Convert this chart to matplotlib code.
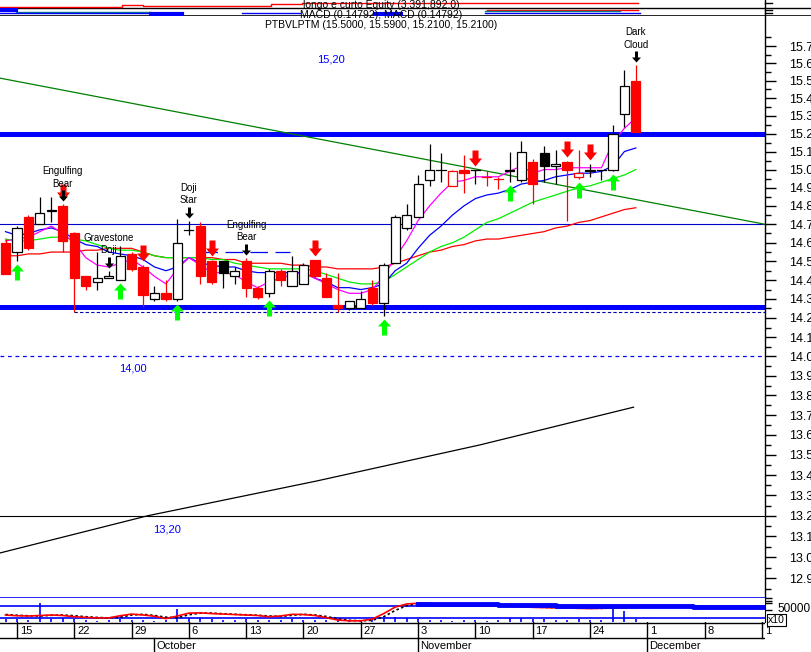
import matplotlib
matplotlib.use("Agg")
import matplotlib.pyplot as plt
import numpy as np
from matplotlib.path import Path
from matplotlib.ticker import FixedLocator, NullFormatter, FixedFormatter

plt.rcParams['font.family'] = ['Liberation Sans', 'DejaVu Sans']

# trading days, 12 Sep .. 28 Nov
opens = [14.60, 14.55, 14.74, 14.70, 14.77, 14.80, 14.65, 14.42, 14.39, 14.41,
         14.40, 14.54, 14.47, 14.30, 14.33, 14.30, 14.67, 14.69, 14.50, 14.50,
         14.42, 14.50, 14.36, 14.33, 14.45, 14.37, 14.38, 14.51, 14.41, 14.27,
         14.25, 14.25, 14.36, 14.28, 14.49, 14.68, 14.74, 14.94, 15.00, 14.91,
         15.00, 15.00, 14.96, 14.95, 14.99, 14.94, 15.04, 15.09, 15.02, 15.04,
         14.96, 14.99, 15.00, 15.00, 15.31, 15.50]
highs = [14.62, 14.69, 14.75, 14.85, 14.85, 14.81, 14.66, 14.42, 14.55, 14.45,
         14.58, 14.55, 14.48, 14.37, 14.40, 14.73, 14.72, 14.71, 14.51, 14.50,
         14.47, 14.52, 14.37, 14.46, 14.46, 14.53, 14.49, 14.51, 14.44, 14.44,
         14.29, 14.34, 14.40, 14.49, 14.75, 14.81, 14.97, 15.14, 15.09, 15.00,
         15.08, 15.00, 14.99, 14.96, 15.10, 15.16, 15.06, 15.13, 15.11, 15.05,
         15.11, 15.03, 15.00, 15.25, 15.56, 15.59]
lows = [14.43, 14.50, 14.56, 14.70, 14.71, 14.55, 14.23, 14.35, 14.35, 14.41,
        14.40, 14.45, 14.26, 14.29, 14.29, 14.29, 14.64, 14.38, 14.38, 14.36,
        14.38, 14.31, 14.30, 14.31, 14.37, 14.37, 14.38, 14.41, 14.31, 14.23,
        14.24, 14.25, 14.27, 14.21, 14.49, 14.67, 14.74, 14.91, 14.93, 14.91,
        14.87, 14.92, 14.91, 14.89, 14.93, 14.93, 14.81, 14.93, 14.92, 14.72,
        14.95, 14.96, 14.94, 14.99, 15.24, 15.21]
closes = [14.43, 14.68, 14.57, 14.76, 14.78, 14.61, 14.41, 14.37, 14.41, 14.42,
          14.53, 14.46, 14.32, 14.33, 14.30, 14.60, 14.67, 14.42, 14.39, 14.44,
          14.45, 14.36, 14.31, 14.45, 14.40, 14.45, 14.48, 14.42, 14.31, 14.25,
          14.29, 14.30, 14.28, 14.48, 14.74, 14.75, 14.92, 15.00, 15.00, 14.99,
          14.98, 15.00, 14.96, 14.95, 15.00, 15.10, 14.92, 15.02, 15.03, 15.00,
          14.98, 15.00, 15.00, 15.20, 15.47, 15.21]

# moving averages
ma_fast = [14.61, 14.62, 14.63, 14.66, 14.69, 14.65, 14.60, 14.52, 14.48, 14.47,
           14.49, 14.51, 14.47, 14.42, 14.38, 14.46, 14.52, 14.48, 14.44, 14.44,
           14.43, 14.39, 14.36, 14.39, 14.41, 14.43, 14.44, 14.41, 14.38, 14.35,
           14.33, 14.33, 14.35, 14.42, 14.52, 14.61, 14.72, 14.80, 14.87, 14.93,
           14.94, 14.96, 14.96, 14.96, 14.99, 15.02, 14.98, 15.00, 15.00, 15.01,
           15.01, 15.01, 15.01, 15.15, 15.23, 15.29]
ma_mid = [14.66, 14.64, 14.65, 14.67, 14.68, 14.66, 14.62, 14.59, 14.58, 14.55,
          14.54, 14.53, 14.51, 14.47, 14.45, 14.47, 14.52, 14.49, 14.48, 14.47,
          14.47, 14.45, 14.44, 14.44, 14.44, 14.44, 14.44, 14.41, 14.39, 14.36,
          14.36, 14.35, 14.36, 14.38, 14.45, 14.49, 14.57, 14.64, 14.69, 14.75,
          14.80, 14.84, 14.86, 14.87, 14.89, 14.92, 14.93, 14.94, 14.96, 14.97,
          14.98, 14.98, 14.99, 15.02, 15.10, 15.12]
ma_slow = [14.62, 14.61, 14.61, 14.62, 14.63, 14.63, 14.62, 14.61, 14.59, 14.57,
           14.56, 14.56, 14.55, 14.53, 14.52, 14.52, 14.52, 14.52, 14.51, 14.51,
           14.49, 14.48, 14.47, 14.46, 14.46, 14.46, 14.46, 14.45, 14.43, 14.41,
           14.39, 14.38, 14.38, 14.39, 14.43, 14.47, 14.51, 14.55, 14.58, 14.60,
           14.63, 14.67, 14.71, 14.73, 14.76, 14.79, 14.82, 14.84, 14.86, 14.88,
           14.90, 14.91, 14.93, 14.95, 14.97, 15.00]
ma_long = [14.53, 14.53, 14.54, 14.54, 14.55, 14.55, 14.55, 14.56, 14.56, 14.57,
           14.57, 14.57, 14.55, 14.53, 14.52, 14.52, 14.52, 14.52, 14.52, 14.51,
           14.51, 14.49, 14.49, 14.49, 14.49, 14.48, 14.48, 14.47, 14.47, 14.46,
           14.46, 14.46, 14.46, 14.47, 14.49, 14.51, 14.53, 14.55, 14.56, 14.58,
           14.59, 14.61, 14.62, 14.62, 14.63, 14.64, 14.65, 14.66, 14.68, 14.69,
           14.71, 14.72, 14.74, 14.76, 14.78, 14.79]

# long black line (sparse points) and green trend line
black_x = [-0.48, 12.4, 27.1, 41.4, 54.8]
black_y = [13.02, 13.20, 13.37, 13.55, 13.74]
trend_x = [-0.48, 66.27]
trend_y = [15.515, 14.70]

levels_thick = [15.20, 14.26]
level_thin = 14.70
level_dash = 14.00
level_black = 13.20
support_dash = 14.23
resist_dash = 14.55

level_labels = [("15,20", 28.4, 15.62), ("14,00", 11.1, 13.94), ("13,20", 14.1, 13.135)]

red_arrows = [5, 12, 18, 27, 41, 49, 51]
green_arrows = [1, 10, 15, 23, 33, 44, 50, 53]
patterns = [(5, "Engulfing\nBear"), (9, "Gravestone\nDoji"), (16, "Doji\nStar"),
            (21, "Engulfing\nBear"), (55, "Dark\nCloud")]

# lower panel: volume (x10) and its averages
volume = [12, 14, 10, 79, 12, 16, 13, 9, 6, 8, 14, 9, 10, 6, 8, 54, 15, 18, 12, 9,
          8, 14, 10, 9, 8, 13, 10, 9, 7, 11, 9, 8, 12, 16, 20, 18, 14, 10, 8, 6,
          7, 8, 6, 9, 16, 18, 12, 14, 10, 9, 12, 8, 7, 58, 46, 14]
vol_avg_red = [29, 26, 25, 27, 29, 27, 22, 19, 17, 17, 26, 33, 29, 24, 14, 25, 37, 38, 35, 33,
               31, 29, 27, 22, 25, 32, 31, 27, 18, 8, 5, 5, 12, 35, 62, 75, 78, 76, 74, 72,
               71, 70, 68, 66, 65, 63, 61, 60, 59, 58, 57, 56, 57, 58, 60, 62]
vol_avg_blk = [31, 28, 26, 25, 28, 29, 26, 22, 19, 17, 20, 29, 32, 27, 20, 18, 30, 37, 37, 34,
               32, 30, 28, 25, 23, 28, 32, 29, 23, 13, 7, 5, 7, 22, 48, 68, 76, 77, 75, 73,
               72, 70, 69, 67, 66, 64, 62, 61, 60, 59, 58, 57, 57, 58, 59, 61]
vol_band_x = [36, 43, 48, 60, 66.27]
vol_band_y = [76, 72, 67, 63, 63]

# compressed equity strip at the top
eq_red_x = [-0.48, 10.2, 12.0, 23.2, 25.9, 55.2]
eq_red_y = [6.7, 5.0, 6.0, 4.3, 3.3, 3.3]
eq_teal_x = [0.9, 12.7]
eq_blue_x = [-0.48, 15.4]

week_ticks = [1, 6, 11, 16, 21, 26, 31, 36, 41, 46, 51, 56, 61, 66]
week_labels = ["15", "22", "29", "6", "13", "20", "27", "3", "10", "17", "24", "1", "8", "1"]
month_ticks = [13, 36, 56]
month_labels = ["October", "November", "December"]

W, H = 812, 652
fig = plt.figure(figsize=(W / 100, H / 100), dpi=100)
fig.patch.set_facecolor("white")

def frac(x0, y0, x1, y1):
    return [x0 / W, 1 - y1 / H, (x1 - x0) / W, (y1 - y0) / H]

XL = (-0.48, 66.27)

ax = fig.add_axes(frac(0, 16, 765, 597))
ax.set_yscale("log")
ax.set_ylim(12.81, 15.875)
ax.set_xlim(*XL)
for s in ["top", "left", "bottom"]:
    ax.spines[s].set_visible(False)
ax.spines["right"].set_linewidth(1.0)
ax.yaxis.tick_right()
ax.set_xticks([])
major = [round(12.9 + 0.1 * k, 2) for k in range(29)]
minor = [round(12.85 + 0.1 * k, 2) for k in range(30)]
ax.yaxis.set_major_locator(FixedLocator(major))
ax.yaxis.set_major_formatter(FixedFormatter(["%.1f" % v for v in major]))
ax.yaxis.set_minor_locator(FixedLocator(minor))
ax.yaxis.set_minor_formatter(NullFormatter())
ax.tick_params(axis="y", which="major", length=8, width=1, pad=9, labelsize=9)
ax.tick_params(axis="y", which="minor", length=4, width=1)

# horizontal levels
for lv in levels_thick:
    ax.axhline(lv, color="#0000ff", lw=3.6, zorder=2)
ax.axhline(level_thin, color="#0000cc", lw=0.8, zorder=1)
ax.axhline(level_dash, color="#0000ff", lw=0.9, ls=(0, (3, 3)), zorder=1)
ax.axhline(level_black, color="black", lw=0.8, zorder=1)
ax.plot([6.0, XL[1]], [support_dash, support_dash], color="#0000aa", lw=0.8, ls=(0, (3, 2)), zorder=1)
ax.plot([17.0, 24.8], [resist_dash, resist_dash], color="#0000ff", lw=0.9, ls=(0, (14, 6)), zorder=1)

ax.plot(trend_x, trend_y, color="#008000", lw=0.9, zorder=2)
ax.plot(black_x, black_y, color="black", lw=0.9, zorder=2)

for txt, xv, yv in level_labels:
    ax.text(xv, yv, txt, color="#0000ff", fontsize=8, ha="center", va="center")

idx = np.arange(len(closes))
ax.plot(idx, ma_long, color="#ff0000", lw=0.9, zorder=3)
ax.plot(idx, ma_slow, color="#00ee00", lw=0.9, zorder=3)
ax.plot(idx, ma_mid, color="#0000ff", lw=0.9, zorder=3)
ax.plot(idx, ma_fast, color="#ff00ff", lw=0.9, zorder=3)

# candles
bw = 0.8
for i in idx:
    o, h, l, c = opens[i], highs[i], lows[i], closes[i]
    prev = closes[i - 1] if i > 0 else o
    down_day = c < prev
    if c > o:
        fc, ec = "white", ("#ff0000" if down_day else "black")
    elif c < o:
        fc = "#ff0000" if down_day else "black"
        ec = fc
    else:
        fc, ec = None, ("#ff0000" if down_day else "black")
    ax.plot([i, i], [l, h], color=ec, lw=0.9, zorder=4, solid_capstyle="butt")
    if fc is None:
        ax.plot([i - bw / 2, i + bw / 2], [o, o], color=ec, lw=0.9, zorder=5)
    else:
        lo, hi = min(o, c), max(o, c)
        ax.bar(i, hi - lo, bottom=lo, width=bw, color=fc, edgecolor=ec,
               linewidth=0.9, zorder=5)

# arrow markers; the marker origin is the candle high/low
def arrow_path(up, gap, length, head_w, head_l, shaft_w):
    s = -1 if up else 1
    pts = [(0, gap), (head_w / 2, gap + head_l), (shaft_w / 2, gap + head_l),
           (shaft_w / 2, gap + length), (-shaft_w / 2, gap + length),
           (-shaft_w / 2, gap + head_l), (-head_w / 2, gap + head_l), (0, gap)]
    return Path([(x, s * y) for x, y in pts], closed=True)

big_down = arrow_path(False, 4, 16, 13, 8, 6)
big_up = arrow_path(True, 3, 16, 13, 7, 5)
small_down = arrow_path(False, 3, 11, 9, 5, 3)

for i in red_arrows:
    ax.plot(i, highs[i], marker=big_down, markersize=2 * 20 * 0.72, color="#ff0000",
            markeredgewidth=0, zorder=6)
for i in green_arrows:
    ax.plot(i, lows[i], marker=big_up, markersize=2 * 19 * 0.72, color="#00ff00",
            markeredgewidth=0, zorder=6)
for i, txt in patterns:
    ax.plot(i, highs[i], marker=small_down, markersize=2 * 14 * 0.72, color="black",
            markeredgewidth=0, zorder=7)
    ax.annotate(txt, xy=(i, highs[i]), xytext=(0, 11), textcoords="offset points",
                ha="center", va="bottom", fontsize=7, linespacing=1.3, zorder=7)

# top strip
axt = fig.add_axes(frac(0, 0, 812, 16))
axt.set_xlim(XL[0], XL[0] + (XL[1] - XL[0]) * 812 / 765)
axt.set_ylim(16, 0)
axt.axis("off")
axt.axhline(8.3, color="black", lw=1.0)
axt.axhline(15.5, color="black", lw=1.2)
axt.step(eq_red_x, eq_red_y, where="post", color="#ff0000", lw=1.0)
axt.plot([42.0, 55.2], [9.7, 9.7], color="#ff0000", lw=1.0)
axt.plot(eq_teal_x, [11.5, 11.5], color="#008080", lw=1.0)
axt.plot([41.8, 53.6], [11.0, 11.0], color="#008080", lw=1.0)
axt.plot(eq_blue_x, [13.0, 13.0], color="#0000ff", lw=1.0)
axt.plot([20.6, 25.7], [13.0, 13.0], color="#0000ff", lw=1.0)
axt.plot([41.8, 55.4], [12.7, 12.7], color="#0000ff", lw=1.0)
axt.plot([-0.48, 0.9], [10.0, 10.0], color="#0000ff", lw=3)
axt.plot([12.7, 15.4], [13.5, 13.5], color="#0000ff", lw=3)
axt.plot([32.2, 34.5], [13.5, 13.5], color="#0000ff", lw=3)
axt.plot([66.27, 66.27], [0, 16], color="black", lw=1.0)
for yv in [3, 10, 12.5]:
    axt.plot([66.27, 66.9], [yv, yv], color="black", lw=1.0)

for txt, ypx in [("longo e curto Equity (3,391,892.0)", 5.5),
                 ("MACD (0.14792), MACD (0.14792)", 15.5),
                 ("PTBVLPTM (15.5000, 15.5900, 15.2100, 15.2100)", 25.5)]:
    fig.text(381 / W, 1 - ypx / H, txt, ha="center", va="center", fontsize=7.5)

# bottom strip
axb = fig.add_axes(frac(0, 597, 765, 622))
axb.set_xlim(*XL)
axb.set_ylim(0, 104)
for s in ["top", "left", "bottom"]:
    axb.spines[s].set_visible(False)
axb.set_xticks([])
axb.yaxis.tick_right()
axb.set_yticks([98, 88, 78, 50])
axb.set_yticklabels([])
axb.tick_params(axis="y", length=5, width=1)
for yv in [102, 66, 15]:
    axb.axhline(yv, color="#0000ff", lw=1.2)
axb.vlines(idx, 0, volume, color="#0000ff", lw=1.2)
axb.plot(idx, vol_avg_blk, color="black", lw=1.2, ls=(0, (1.5, 1.5)))
axb.plot(idx, vol_avg_red, color="#ff0000", lw=1.2)
axb.step(vol_band_x, vol_band_y, where="post", color="#0000ff", lw=3.5)
axb.text(1.016, 0.5, "50000", transform=axb.transAxes, fontsize=8.5, va="center")
axb.text(1.004, 0.08, "x10", transform=axb.transAxes, fontsize=7.5, va="center",
         bbox=dict(boxstyle="square,pad=0.1", fc="white", ec="black", lw=0.8))

# date axis
axd = fig.add_axes(frac(0, 622, 765, 652))
axd.set_xlim(*XL)
axd.set_ylim(30, 0)
axd.axis("off")
axd.axhline(0.5, color="black", lw=1.0)
axd.axhline(16, color="black", lw=1.0)
for t, lab in zip(week_ticks, week_labels):
    axd.plot([t, t], [0, 16], color="black", lw=1.0)
    axd.text(t + 0.25, 9, lab, fontsize=8, va="center", ha="left")
for t, lab in zip(month_ticks, month_labels):
    axd.plot([t, t], [16, 30], color="black", lw=1.0)
    axd.text(t + 0.15, 24, lab, fontsize=8, va="center", ha="left")

fig.savefig("out.png", dpi=100)
